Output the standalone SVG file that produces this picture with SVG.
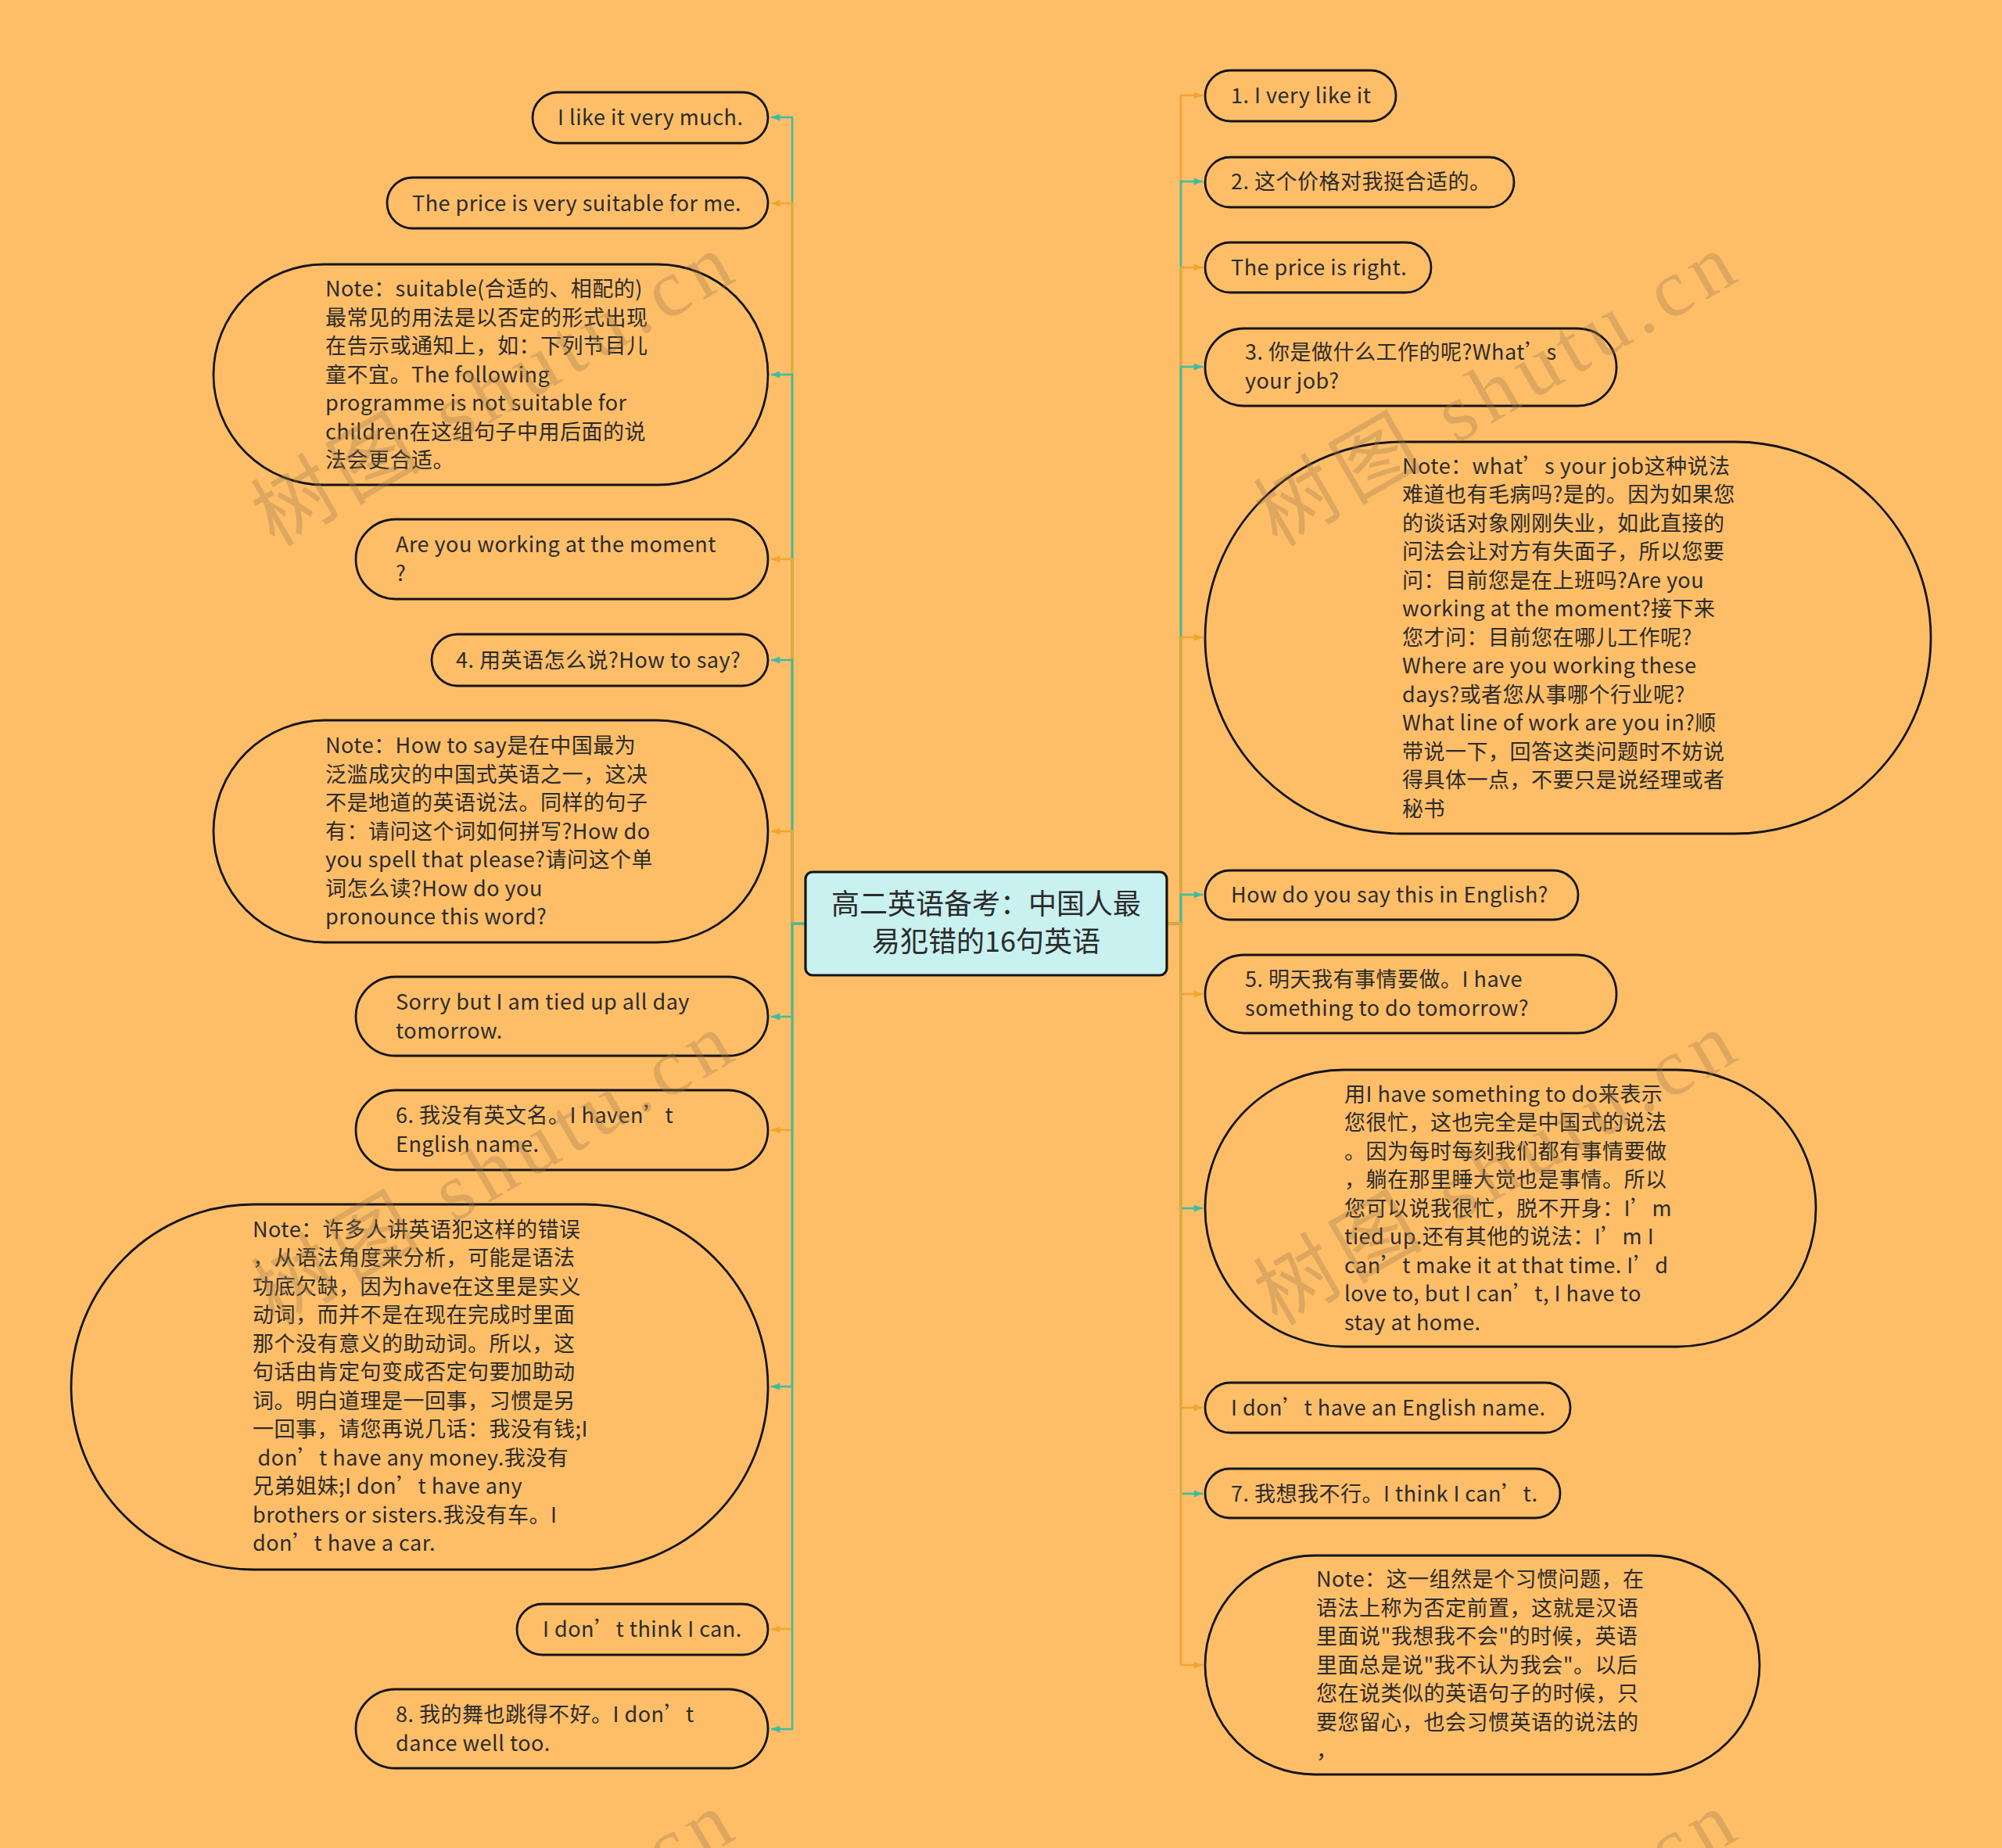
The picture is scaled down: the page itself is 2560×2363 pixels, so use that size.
<svg xmlns="http://www.w3.org/2000/svg" width="2560" height="2363" viewBox="0 0 2560 2363">
<defs>
<style>
.bg{fill:#FEBE68}
.node{fill:#FEBE68;stroke:#141414;stroke-width:2.8}
.root{fill:#C9F1F0;stroke:#141414;stroke-width:3.2}
.t{font-family:"Noto Sans CJK SC","Noto Sans",sans-serif;font-size:27px;fill:#2b2b2b;letter-spacing:0.5px}
.rt{font-family:"Noto Sans CJK SC","Noto Sans",sans-serif;font-size:36px;fill:#2b2b2b;text-anchor:middle}
.teal{fill:none;stroke:#3DBCA4;stroke-width:2.6;marker-end:url(#aT)}
.orng{fill:none;stroke:#F2A42C;stroke-width:2.6;marker-end:url(#aO)}
.wm{font-family:"Liberation Serif","Noto Sans CJK SC",serif;font-size:104px;fill:#9c7a4f;fill-opacity:0.33;letter-spacing:10px}
</style>
<marker id="aT" viewBox="0 0 10 8" refX="10" refY="4" markerWidth="12" markerHeight="9" markerUnits="userSpaceOnUse" orient="auto"><path d="M0,0 L10,4 L0,8 z" fill="#3DBCA4"/></marker>
<marker id="aO" viewBox="0 0 10 8" refX="10" refY="4" markerWidth="12" markerHeight="9" markerUnits="userSpaceOnUse" orient="auto"><path d="M0,0 L10,4 L0,8 z" fill="#F2A42C"/></marker>
</defs>
<rect class="bg" x="0" y="0" width="2560" height="2363"/>

<g id="connectors">
<path class="teal" d="M1030 1181 H1013 V150 H986"/>
<path class="orng" d="M1030 1181 H1013 V260 H986"/>
<path class="teal" d="M1030 1181 H1013 V479 H986"/>
<path class="orng" d="M1030 1181 H1013 V715 H986"/>
<path class="teal" d="M1030 1181 H1013 V844 H986"/>
<path class="orng" d="M1030 1181 H1013 V1063 H986"/>
<path class="teal" d="M1030 1181 H1013 V1300 H986"/>
<path class="orng" d="M1030 1181 H1013 V1445 H986"/>
<path class="teal" d="M1030 1181 H1013 V1773 H986"/>
<path class="orng" d="M1030 1181 H1013 V2083 H986"/>
<path class="teal" d="M1030 1181 H1013 V2211 H986"/>

<path class="orng" d="M1492 1181 H1510 V122 H1538"/>
<path class="teal" d="M1492 1181 H1510 V232 H1538"/>
<path class="orng" d="M1492 1181 H1510 V342 H1538"/>
<path class="teal" d="M1492 1181 H1510 V469 H1538"/>
<path class="orng" d="M1492 1181 H1510 V815 H1538"/>
<path class="teal" d="M1492 1181 H1510 V1144 H1538"/>
<path class="orng" d="M1492 1181 H1510 V1271 H1538"/>
<path class="teal" d="M1492 1181 H1510 V1545 H1538"/>
<path class="orng" d="M1492 1181 H1510 V1800 H1538"/>
<path class="teal" d="M1492 1181 H1510 V1910 H1538"/>
<path class="orng" d="M1492 1181 H1510 V2129 H1538"/>
</g>

<g id="root">
<rect class="root" x="1030" y="1115" width="462" height="132" rx="9"/>
<text class="rt" x="1261" y="1169">高二英语备考：中国人最</text>
<text class="rt" x="1261" y="1217">易犯错的16句英语</text>
</g>

<g id="L1"><rect class="node" x="681" y="118" width="301" height="65" rx="32.5"/>
<text class="t" x="713" y="160">I like it very much.</text></g>

<g id="L2"><rect class="node" x="495" y="227" width="487" height="65" rx="32.5"/>
<text class="t" x="527" y="269.5">The price is very suitable for me.</text></g>

<g id="L3"><rect class="node" x="273" y="338" width="709" height="282" rx="141"/>
<text class="t" x="416" y="379"><tspan x="416">Note：suitable(合适的、相配的)</tspan><tspan x="416" dy="36.5">最常见的用法是以否定的形式出现</tspan><tspan x="416" dy="36.5">在告示或通知上，如：下列节目儿</tspan><tspan x="416" dy="36.5">童不宜。The following</tspan><tspan x="416" dy="36.5">programme is not suitable for</tspan><tspan x="416" dy="36.5">children在这组句子中用后面的说</tspan><tspan x="416" dy="36.5">法会更合适。</tspan></text></g>

<g id="L4"><rect class="node" x="455" y="664" width="527" height="102" rx="51"/>
<text class="t" x="506" y="706"><tspan x="506">Are you working at the moment</tspan><tspan x="506" dy="36.5">?</tspan></text></g>

<g id="L5"><rect class="node" x="552" y="811" width="430" height="66" rx="33"/>
<text class="t" x="583" y="853.5">4. 用英语怎么说?How to say?</text></g>

<g id="L6"><rect class="node" x="273" y="921" width="709" height="284" rx="142"/>
<text class="t" x="416" y="963"><tspan x="416">Note：How to say是在中国最为</tspan><tspan x="416" dy="36.5">泛滥成灾的中国式英语之一，这决</tspan><tspan x="416" dy="36.5">不是地道的英语说法。同样的句子</tspan><tspan x="416" dy="36.5">有：请问这个词如何拼写?How do</tspan><tspan x="416" dy="36.5">you spell that please?请问这个单</tspan><tspan x="416" dy="36.5">词怎么读?How do you</tspan><tspan x="416" dy="36.5">pronounce this word?</tspan></text></g>

<g id="L7"><rect class="node" x="455" y="1249" width="527" height="101" rx="50.5"/>
<text class="t" x="506" y="1291"><tspan x="506">Sorry but I am tied up all day</tspan><tspan x="506" dy="36.5">tomorrow.</tspan></text></g>

<g id="L8"><rect class="node" x="455" y="1394" width="527" height="102" rx="51"/>
<text class="t" x="506" y="1436"><tspan x="506">6. 我没有英文名。I haven’t</tspan><tspan x="506" dy="36.5">English name.</tspan></text></g>

<g id="L9"><rect class="node" x="91" y="1540" width="891" height="467" rx="233.5"/>
<text class="t" x="323" y="1581.75"><tspan x="323">Note：许多人讲英语犯这样的错误</tspan><tspan x="323" dy="36.5">，从语法角度来分析，可能是语法</tspan><tspan x="323" dy="36.5">功底欠缺，因为have在这里是实义</tspan><tspan x="323" dy="36.5">动词，而并不是在现在完成时里面</tspan><tspan x="323" dy="36.5">那个没有意义的助动词。所以，这</tspan><tspan x="323" dy="36.5">句话由肯定句变成否定句要加助动</tspan><tspan x="323" dy="36.5">词。明白道理是一回事，习惯是另</tspan><tspan x="323" dy="36.5">一回事，请您再说几话：我没有钱;I</tspan><tspan x="323" dy="36.5"> don’t have any money.我没有</tspan><tspan x="323" dy="36.5">兄弟姐妹;I don’t have any</tspan><tspan x="323" dy="36.5">brothers or sisters.我没有车。I</tspan><tspan x="323" dy="36.5">don’t have a car.</tspan></text></g>

<g id="L10"><rect class="node" x="661" y="2051" width="321" height="65" rx="32.5"/>
<text class="t" x="694" y="2092.5">I don’t think I can.</text></g>

<g id="L11"><rect class="node" x="455" y="2160" width="527" height="101" rx="50.5"/>
<text class="t" x="506" y="2202"><tspan x="506">8. 我的舞也跳得不好。I don’t</tspan><tspan x="506" dy="36.5">dance well too.</tspan></text></g>

<g id="R1"><rect class="node" x="1541" y="90" width="244" height="65" rx="32.5"/>
<text class="t" x="1574" y="131.5">1. I very like it</text></g>

<g id="R2"><rect class="node" x="1541" y="201" width="395" height="64" rx="32"/>
<text class="t" x="1574" y="241.5">2. 这个价格对我挺合适的。</text></g>

<g id="R3"><rect class="node" x="1541" y="310" width="289" height="64" rx="32"/>
<text class="t" x="1574" y="351.5">The price is right.</text></g>

<g id="R4"><rect class="node" x="1541" y="420" width="526" height="99" rx="49.5"/>
<text class="t" x="1592" y="460"><tspan x="1592">3. 你是做什么工作的呢?What’s</tspan><tspan x="1592" dy="36.5">your job?</tspan></text></g>

<g id="R5"><rect class="node" x="1541" y="565" width="928" height="501" rx="250.5"/>
<text class="t" x="1793" y="605.5"><tspan x="1793">Note：what’s your job这种说法</tspan><tspan x="1793" dy="36.5">难道也有毛病吗?是的。因为如果您</tspan><tspan x="1793" dy="36.5">的谈话对象刚刚失业，如此直接的</tspan><tspan x="1793" dy="36.5">问法会让对方有失面子，所以您要</tspan><tspan x="1793" dy="36.5">问：目前您是在上班吗?Are you</tspan><tspan x="1793" dy="36.5">working at the moment?接下来</tspan><tspan x="1793" dy="36.5">您才问：目前您在哪儿工作呢?</tspan><tspan x="1793" dy="36.5">Where are you working these</tspan><tspan x="1793" dy="36.5">days?或者您从事哪个行业呢?</tspan><tspan x="1793" dy="36.5">What line of work are you in?顺</tspan><tspan x="1793" dy="36.5">带说一下，回答这类问题时不妨说</tspan><tspan x="1793" dy="36.5">得具体一点，不要只是说经理或者</tspan><tspan x="1793" dy="36.5">秘书</tspan></text></g>

<g id="R6"><rect class="node" x="1541" y="1113" width="477" height="63" rx="31.5"/>
<text class="t" x="1574" y="1153.5">How do you say this in English?</text></g>

<g id="R7"><rect class="node" x="1541" y="1221" width="526" height="100" rx="50"/>
<text class="t" x="1592" y="1262"><tspan x="1592">5. 明天我有事情要做。I have</tspan><tspan x="1592" dy="36.5">something to do tomorrow?</tspan></text></g>

<g id="R8"><rect class="node" x="1541" y="1368" width="781" height="354" rx="177"/>
<text class="t" x="1719" y="1408.5"><tspan x="1719">用I have something to do来表示</tspan><tspan x="1719" dy="36.5">您很忙，这也完全是中国式的说法</tspan><tspan x="1719" dy="36.5">。因为每时每刻我们都有事情要做</tspan><tspan x="1719" dy="36.5">，躺在那里睡大觉也是事情。所以</tspan><tspan x="1719" dy="36.5">您可以说我很忙，脱不开身：I’m</tspan><tspan x="1719" dy="36.5">tied up.还有其他的说法：I’m I</tspan><tspan x="1719" dy="36.5">can’t make it at that time. I’d</tspan><tspan x="1719" dy="36.5">love to, but I can’t, I have to</tspan><tspan x="1719" dy="36.5">stay at home.</tspan></text></g>

<g id="R9"><rect class="node" x="1541" y="1768" width="467" height="64" rx="32"/>
<text class="t" x="1574" y="1809.5">I don’t have an English name.</text></g>

<g id="R10"><rect class="node" x="1541" y="1878" width="454" height="63" rx="31.5"/>
<text class="t" x="1574" y="1919.5">7. 我想我不行。I think I can’t.</text></g>

<g id="R11"><rect class="node" x="1541" y="1989" width="709" height="280" rx="140"/>
<text class="t" x="1683" y="2029"><tspan x="1683">Note：这一组然是个习惯问题，在</tspan><tspan x="1683" dy="36.5">语法上称为否定前置，这就是汉语</tspan><tspan x="1683" dy="36.5">里面说"我想我不会"的时候，英语</tspan><tspan x="1683" dy="36.5">里面总是说"我不认为我会"。以后</tspan><tspan x="1683" dy="36.5">您在说类似的英语句子的时候，只</tspan><tspan x="1683" dy="36.5">要您留心，也会习惯英语的说法的</tspan><tspan x="1683" dy="36.5">，</tspan></text></g>

<g id="watermark">
<text class="wm" transform="translate(351 700) rotate(-30)">树图 shutu.cn</text>
<text class="wm" transform="translate(1633 700) rotate(-30)">树图 shutu.cn</text>
<text class="wm" transform="translate(351 1696) rotate(-30)">树图 shutu.cn</text>
<text class="wm" transform="translate(1633 1696) rotate(-30)">树图 shutu.cn</text>
<text class="wm" transform="translate(351 2692) rotate(-30)">树图 shutu.cn</text>
<text class="wm" transform="translate(1633 2692) rotate(-30)">树图 shutu.cn</text>
</g>
</svg>
